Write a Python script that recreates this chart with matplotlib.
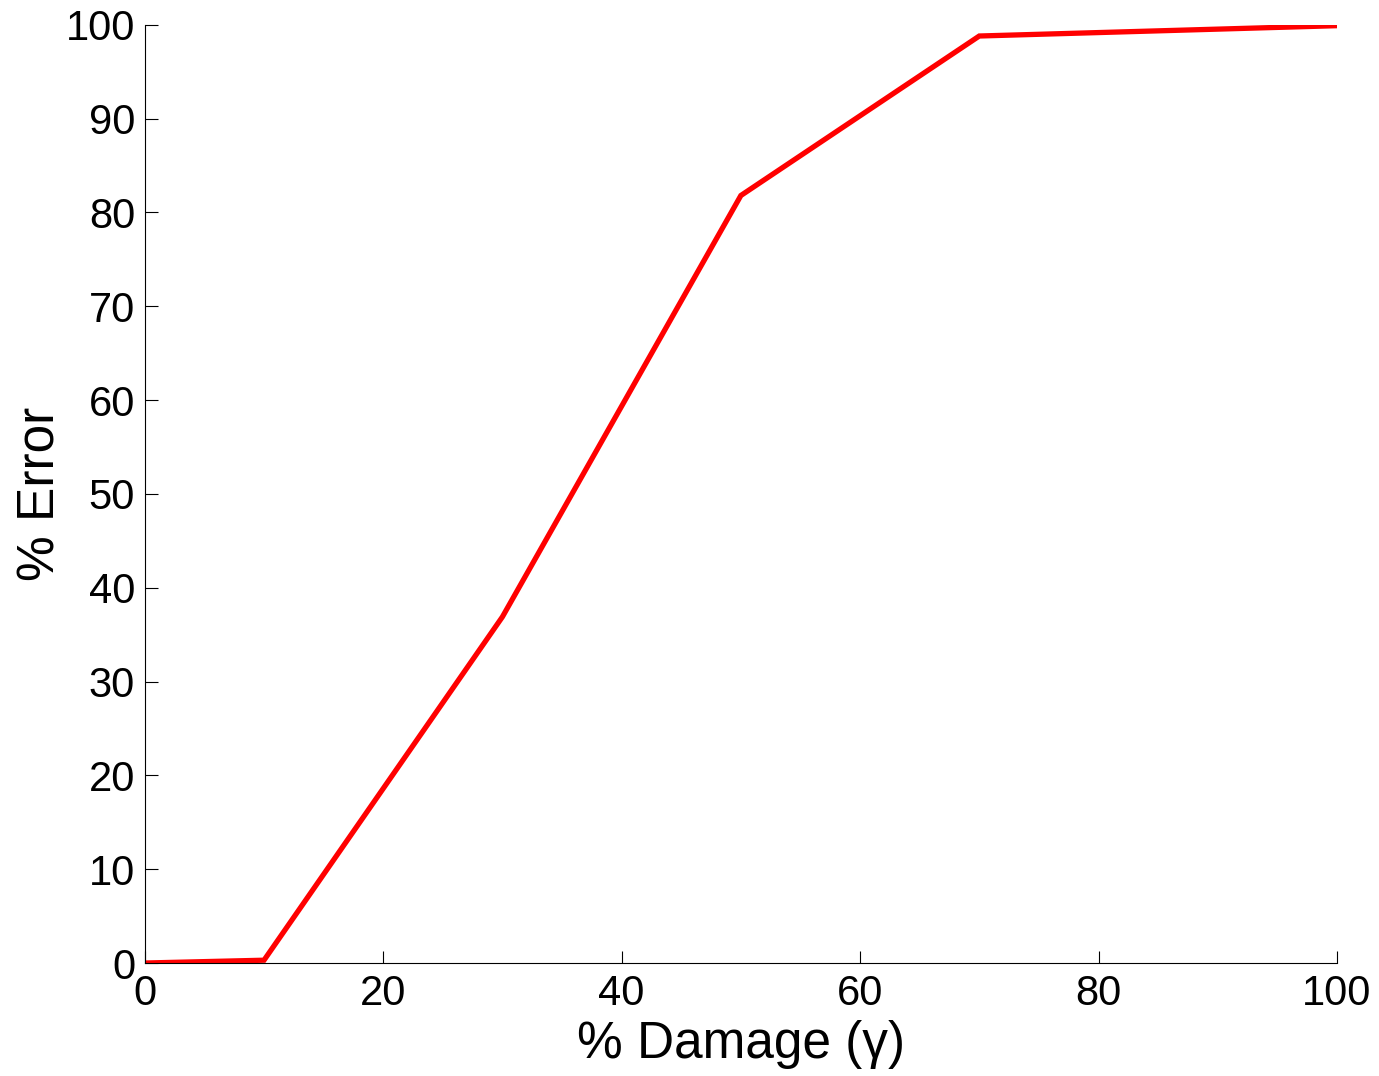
import matplotlib
matplotlib.use('Agg')
import matplotlib.pyplot as plt

# data
damage = [0, 10, 30, 50, 70, 100]
error = [0, 0.3, 36.9, 81.8, 98.8, 99.9]

plt.rcParams['font.family'] = ['Liberation Sans', 'DejaVu Sans']

fig = plt.figure(figsize=(13.79, 10.76), dpi=100)
ax = fig.add_axes([0.105, 0.105, 0.8645, 0.872])

ax.plot(damage, error, color='red', linewidth=3.8, solid_joinstyle='miter')

ax.set_xlim(0, 100)
ax.set_ylim(0, 100)
ax.set_xticks(range(0, 101, 20))
ax.set_yticks(range(0, 101, 10))

ax.spines['top'].set_visible(False)
ax.spines['right'].set_visible(False)
ax.tick_params(direction='in', length=9, width=0.8, labelsize=30)
ax.tick_params(axis='x', pad=8)
ax.tick_params(axis='y', pad=7)

ax.set_xlabel('% Damage (γ)', fontsize=37, labelpad=4)
ax.set_ylabel('% Error', fontsize=37, labelpad=0)

fig.savefig('out.png', dpi=100)
